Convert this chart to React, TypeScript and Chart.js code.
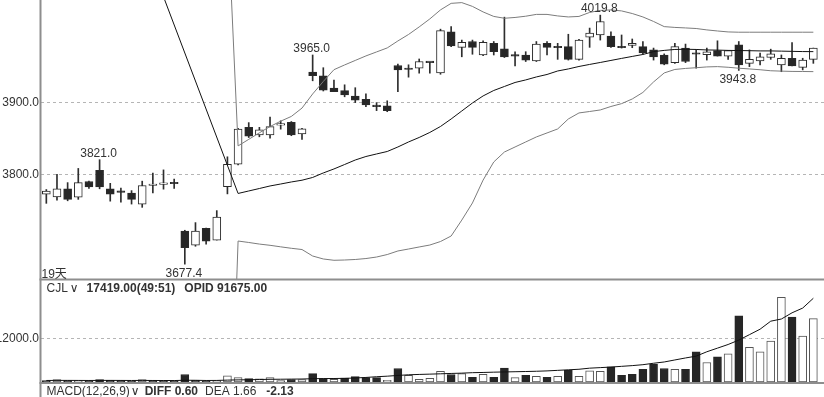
import React, { useEffect, useRef } from 'react';
import { Chart, registerables } from 'chart.js';

Chart.register(...registerables);

// ---- price candles (index 0..72) ----
const opens = [3773.5, 3770, 3781, 3769.5, 3791, 3806.5, 3781, 3776.5, 3775, 3760, 3785.5, 3787, 3788, 3723, 3703.5, 3726.5, 3710.5, 3784, 3815, 3865.5, 3855, 3855, 3868.5, 3872.5, 3856.5, 3941.5, 3936.5, 3919.5, 3916, 3908.5, 3904, 3894.5, 3895, 3950.5, 3947, 3947, 3954.5, 3940.5, 3997, 3975.5, 3983.5, 3965, 3981, 3973.5, 3963.5, 3965, 3957, 3981, 3975, 3976.5, 3959, 3989.5, 3992.5, 3991, 3975, 3978, 3976.5, 3972, 3965, 3954.5, 3974.5, 3966.5, 3965.5, 3971, 3963.5, 3979, 3953.5, 3957, 3961.5, 3951.5, 3960.5, 3948, 3959];
const highs = [3780, 3801, 3789.5, 3809, 3791.5, 3821, 3788.5, 3782, 3778.5, 3791.5, 3802.5, 3807, 3794.5, 3724, 3734.5, 3727, 3751, 3825, 3864, 3872, 3865.5, 3879.5, 3874.5, 3873.5, 3864, 3965, 3947.5, 3930.5, 3924, 3920, 3911.5, 3899.5, 3902, 3952.5, 3951.5, 3959.5, 3955, 4000.5, 4004, 3985.5, 3985.5, 3984.5, 3983.5, 4017, 3969.5, 3969.5, 3983.5, 3983.5, 3981, 3993.5, 3986.5, 4002, 4019.8, 3997, 3992.5, 3987, 3983.5, 3974.5, 3966.5, 3981, 3980, 3972, 3974.5, 3984.5, 3971, 3983.5, 3972, 3967.5, 3973, 3965, 3982, 3960.5, 3974.5];
const lows = [3761, 3765.5, 3764.5, 3766.5, 3781.5, 3781, 3764, 3762.5, 3760, 3755.5, 3775.5, 3780.5, 3781.5, 3677.4, 3702, 3705, 3710.5, 3774, 3814, 3851.5, 3852.5, 3850.5, 3863, 3854, 3849, 3929.5, 3915.5, 3914.5, 3907.5, 3899.5, 3894, 3888.5, 3887, 3914.5, 3934.5, 3940, 3940, 3938.5, 3976.5, 3962.5, 3966, 3964, 3965, 3961.5, 3950, 3956, 3956, 3965, 3959, 3958, 3958, 3975.5, 3985.5, 3975.5, 3974.5, 3975, 3966, 3958, 3951.5, 3953.5, 3954.5, 3947, 3958, 3963.5, 3959, 3943.8, 3949, 3951.5, 3959, 3942, 3950, 3944.5, 3953.5];
const closes = [3778, 3781, 3766.5, 3789.5, 3783.5, 3783.5, 3773.5, 3776, 3766.5, 3785.5, 3786, 3787.5, 3788, 3700, 3723, 3709, 3742, 3814.5, 3863, 3853.5, 3862, 3866.5, 3869, 3855, 3863.5, 3936.5, 3916.5, 3914.5, 3910, 3903, 3896.5, 3894, 3888.5, 3944.5, 3945, 3956, 3954.5, 3998.5, 3977.5, 3982.5, 3975.5, 3982.5, 3969.5, 3962.5, 3963.5, 3958, 3980, 3975.5, 3975, 3959, 3985.5, 3995, 4011, 3976.5, 3975, 3981, 3968, 3962.5, 3952.5, 3976.5, 3956, 3966, 3969.5, 3963.5, 3971, 3951.5, 3959, 3962.5, 3966.5, 3960.5, 3950, 3958, 3974.5];

// ---- Bollinger bands ----
const bollUpper = [null, null, null, null, null, null, null, null, null, null, null, null, null, null, null, null, null, 4165, 3840, 3849, 3858, 3866.6, 3874, 3880.5, 3892, 3911.4, 3928.6, 3944.8, 3951.3, 3957.5, 3963.7, 3969.2, 3974.7, 3984.3, 3993.2, 4003.6, 4014.6, 4027, 4036, 4037, 4031.8, 4024.2, 4018, 4015.5, 4016.6, 4018.3, 4020.8, 4020.8, 4018.7, 4017.3, 4018, 4023.5, 4026.3, 4027, 4025.6, 4022, 4017.3, 4011.1, 4004, 4002.9, 4002.2, 4001.4, 3999.5, 3998, 3996.7, 3996.3, 3996.3, 3996.3, 3996.3, 3996.3, 3996.3, 3996.3, 3996.3];
const bollMid = [null, null, null, null, null, null, null, null, null, null, null, 4045, null, null, null, null, null, null, 3774.6, 3778, 3781.4, 3784.9, 3787.6, 3790.4, 3792.8, 3796.6, 3802.8, 3808.3, 3814.4, 3820.6, 3825.4, 3828.9, 3832.3, 3838.5, 3845.4, 3851.6, 3858.5, 3866.7, 3877, 3888, 3899, 3908.7, 3916.2, 3921.7, 3927.2, 3930.7, 3934.8, 3938.2, 3943, 3945.8, 3949.2, 3952, 3954.7, 3957.5, 3960.3, 3963, 3965.7, 3969.6, 3971.3, 3972.6, 3972.9, 3972.6, 3971.9, 3971.7, 3971.3, 3971.1, 3970.9, 3970.6, 3970.6, 3970.3, 3970, 3969.7, 3969.6];
const bollLower = [null, null, null, null, null, null, null, null, null, null, null, null, null, null, null, null, null, 3290, 3709.2, 3707.2, 3705, 3703.3, 3701.2, 3699.2, 3697.5, 3688.6, 3684.5, 3682.7, 3683.1, 3683.8, 3685.1, 3687.2, 3690.6, 3695.5, 3698.2, 3701, 3703.7, 3708.5, 3716.1, 3738, 3761.5, 3793, 3817.9, 3831.6, 3838.5, 3845.4, 3852.3, 3857.8, 3863.3, 3877, 3885.3, 3887.3, 3889.4, 3894.2, 3898.1, 3904.5, 3913.5, 3927.9, 3940.3, 3945.1, 3946.5, 3947.5, 3948.6, 3949, 3948.1, 3946.8, 3945.8, 3944.7, 3943.3, 3942.8, 3942.4, 3942.3, 3942.1];

// ---- volume ----
const volumes = [400, 660, 400, 400, 150, 660, 480, 400, 150, 660, 400, 400, 150, 2050, 480, 150, 400, 1660, 1200, 940, 850, 1200, 400, 660, 660, 2320, 940, 760, 1100, 1490, 1200, 1200, 480, 3700, 1850, 750, 1020, 2950, 2050, 2320, 1300, 2130, 1300, 3790, 1200, 1850, 1570, 1300, 1570, 3230, 1570, 3040, 2950, 4150, 1850, 2130, 3500, 4890, 3700, 3500, 3500, 8300, 5360, 6910, 7740, 18160, 9510, 8300, 11250, 23230, 17800, 12640, 17419];
const volRise = [false, true, false, true, false, false, false, false, false, true, false, false, false, false, false, false, true, true, true, false, true, true, true, false, true, false, false, true, false, false, false, false, true, false, true, true, true, true, false, true, false, true, false, false, true, false, true, false, true, false, true, true, true, false, false, false, false, false, false, true, false, false, true, false, true, false, true, true, true, true, false, true, true];
const volMa = [420, 440, 440, 430, 420, 440, 440, 430, 420, 430, 420, 410, 400, 480, 470, 420, 430, 520, 580, 620, 680, 740, 760, 790, 820, 900, 940, 960, 1000, 1100, 1250, 1450, 1600, 1800, 1980, 2080, 2160, 2250, 2350, 2430, 2560, 2620, 2700, 2760, 2820, 2880, 2950, 3050, 3200, 3350, 3500, 3800, 3950, 4100, 4300, 4500, 4750, 5150, 5500, 6050, 6600, 7100, 8300, 9300, 10300, 11500, 13000, 14500, 16700, 17300, 19000, 20300, 23000];

// ---- ticks & marks ----
const mainTicks = [3800, 3900];
const volTicks = [12000];
const markIndex = [5, 13, 25, 52, 65];
const markValue = [3821.0, 3677.4, 3965.0, 4019.8, 3943.8];
const markAbove = [true, false, true, true, false];
const periodLabel = '19天';
const volHeader = ['CJL', '∨', '17419.00(49:51)', 'OPID 91675.00'];
const macdHeader = ['MACD(12,26,9)', '∨', 'DIFF 0.60', 'DEA 1.66', '-2.13'];
const macdTick = '100.0';

const FONT = "'Liberation Sans', 'DejaVu Sans', 'Noto Sans CJK SC', sans-serif";
const SYM_FONT = "'DejaVu Sans', sans-serif";
const TEXT = '#333333';
const AXIS = '#8e8e8e';
const GRID = '#b5b5b5';

const X_MIN = -0.5;
const X_MAX = 73;
const MAIN_MIN = 3655.6;
const MAIN_MAX = 4040.6;
const VOL_MAX = 27735;

// parts: text, style (0 normal, 1 bold, 2 symbol), gap after
function drawParts(ctx: CanvasRenderingContext2D, parts: [string, number, number][], x0: number, y: number) {
  let x = x0;
  parts.forEach(([t, style, gap]) => {
    ctx.font = style === 1 ? `bold 12px ${FONT}` : style === 2 ? `12px ${SYM_FONT}` : `12px ${FONT}`;
    ctx.fillText(t, x, y);
    x += ctx.measureText(t).width + gap;
  });
}

export default function App() {
  const mainRef = useRef<HTMLCanvasElement>(null);
  const volRef = useRef<HTMLCanvasElement>(null);

  useEffect(() => {
    const idx = opens.map((_, i) => i);
    const toXY = (arr: (number | null)[]) => arr.map((v, i) => ({ x: i, y: v }));
    const xScale: any = { type: 'linear', min: X_MIN, max: X_MAX, display: false, offset: false, grid: { display: false } };
    const fitY = (s: any) => { s.width = 41; s.paddingTop = 0; s.paddingBottom = 0; };

    const mainPlugin = {
      id: 'mainDeco',
      afterDraw(chart: any) {
        const { ctx, chartArea: a, scales } = chart;
        const x = scales.x, y = scales.y;
        ctx.save();
        ctx.fillStyle = AXIS;
        ctx.fillRect(a.left - 1.5, 0, 2, a.bottom + 1);
        ctx.fillRect(a.left - 1.5, a.bottom - 1.5, a.right - a.left + 2, 2);
        ctx.fillStyle = TEXT;
        ctx.font = `12px ${FONT}`;
        ctx.textAlign = 'center';
        ctx.textBaseline = 'alphabetic';
        markIndex.forEach((mi, k) => {
          const px = x.getPixelForValue(mi) - 1;
          const py = y.getPixelForValue(markValue[k]);
          ctx.fillText(markValue[k].toFixed(1), px, markAbove[k] ? py - 3 : py + 12.5);
        });
        ctx.textAlign = 'left';
        ctx.fillText(periodLabel, a.left + 0.5, a.bottom - 2.5);
        ctx.restore();
      },
    };

    const main = new Chart(mainRef.current as HTMLCanvasElement, {
      type: 'bar',
      data: {
        datasets: [
          { type: 'line', data: toXY(bollMid), borderColor: '#111111', borderWidth: 1, pointRadius: 0, spanGaps: true, tension: 0 } as any,
          { type: 'line', data: toXY(bollUpper), borderColor: '#7c7c7c', borderWidth: 1, pointRadius: 0, spanGaps: false, tension: 0 } as any,
          { type: 'line', data: toXY(bollLower), borderColor: '#7c7c7c', borderWidth: 1, pointRadius: 0, spanGaps: false, tension: 0 } as any,
          {
            type: 'bar',
            data: idx.map((i) => ({ x: i, y: [opens[i], closes[i]] })),
            backgroundColor: idx.map((i) => (closes[i] > opens[i] ? '#ffffff' : '#262626')),
            borderColor: '#2a2a2a',
            borderWidth: 1,
            borderSkipped: false,
            barThickness: 8,
            grouped: false,
            minBarLength: 1.5,
          } as any,
          {
            type: 'bar',
            data: idx.map((i) => ({ x: i, y: [lows[i], highs[i]] })),
            backgroundColor: '#2e2e2e',
            borderWidth: 0,
            barThickness: 1,
            grouped: false,
          } as any,
        ],
      },
      options: {
        responsive: false,
        maintainAspectRatio: false,
        animation: false,
        layout: { padding: { left: 0, right: 0, top: 0, bottom: 1 } },
        plugins: { legend: { display: false }, tooltip: { enabled: false } },
        scales: {
          x: xScale,
          y: {
            type: 'linear',
            position: 'left',
            min: MAIN_MIN,
            max: MAIN_MAX,
            afterFit: fitY,
            afterBuildTicks: (s: any) => { s.ticks = mainTicks.map((v) => ({ value: v })); },
            ticks: { callback: (v: any) => Number(v).toFixed(1), font: { family: FONT, size: 12 }, color: TEXT, padding: 2 },
            grid: { color: GRID, lineWidth: 1, drawTicks: false, tickLength: 0 },
            border: { display: false, dash: [3, 3] },
          } as any,
        },
      },
      plugins: [mainPlugin],
    });

    const volPlugin = {
      id: 'volDeco',
      afterDraw(chart: any) {
        const { ctx, chartArea: a } = chart;
        const H = chart.height;
        ctx.save();
        ctx.fillStyle = AXIS;
        ctx.fillRect(a.left - 1.5, 0, 2, H);
        ctx.fillRect(a.left - 1.5, a.bottom, a.right - a.left + 2, 2);
        ctx.fillStyle = TEXT;
        ctx.textAlign = 'left';
        ctx.textBaseline = 'alphabetic';
        drawParts(ctx, [[volHeader[0], 0, 2], [volHeader[1], 2, 8], [volHeader[2], 1, 9], [volHeader[3], 1, 0]], 46.5, 11);
        drawParts(ctx, [[macdHeader[0], 0, 1], [macdHeader[1], 2, 5], [macdHeader[2], 1, 7], [macdHeader[3], 0, 10], [macdHeader[4], 1, 0]], 46.5, a.bottom + 13);
        ctx.font = `12px ${FONT}`;
        ctx.textAlign = 'right';
        ctx.fillText(macdTick, a.left - 3, a.bottom + 23.5);
        ctx.restore();
      },
    };

    const vol = new Chart(volRef.current as HTMLCanvasElement, {
      type: 'bar',
      data: {
        datasets: [
          { type: 'line', data: toXY(volMa), borderColor: '#111111', borderWidth: 1, pointRadius: 0, tension: 0 } as any,
          {
            type: 'bar',
            data: idx.map((i) => ({ x: i, y: volumes[i] })),
            backgroundColor: idx.map((i) => (volRise[i] ? '#ffffff' : '#262626')),
            borderColor: idx.map((i) => (volRise[i] ? '#555555' : '#262626')),
            borderWidth: 1,
            borderSkipped: false,
            barThickness: 8,
            grouped: false,
          } as any,
        ],
      },
      options: {
        responsive: false,
        maintainAspectRatio: false,
        animation: false,
        layout: { padding: { left: 0, right: 0, top: 0, bottom: 15 } },
        plugins: { legend: { display: false }, tooltip: { enabled: false } },
        scales: {
          x: xScale,
          y: {
            type: 'linear',
            position: 'left',
            min: 0,
            max: VOL_MAX,
            afterFit: fitY,
            afterBuildTicks: (s: any) => { s.ticks = volTicks.map((v) => ({ value: v })); },
            ticks: { callback: (v: any) => Number(v).toFixed(1), font: { family: FONT, size: 12 }, color: TEXT, padding: 2 },
            grid: { color: GRID, lineWidth: 1, drawTicks: false, tickLength: 0 },
            border: { display: false, dash: [3, 3] },
          } as any,
        },
      },
      plugins: [volPlugin],
    });

    return () => {
      main.destroy();
      vol.destroy();
    };
  }, []);

  return (
    <div style={{ position: 'fixed', left: 0, top: 0, width: 824, height: 397, overflow: 'hidden', background: '#ffffff' }}>
      <canvas ref={mainRef} width={824} height={281} style={{ display: 'block', width: 824, height: 281 }} />
      <canvas ref={volRef} width={824} height={116} style={{ display: 'block', width: 824, height: 116 }} />
    </div>
  );
}
